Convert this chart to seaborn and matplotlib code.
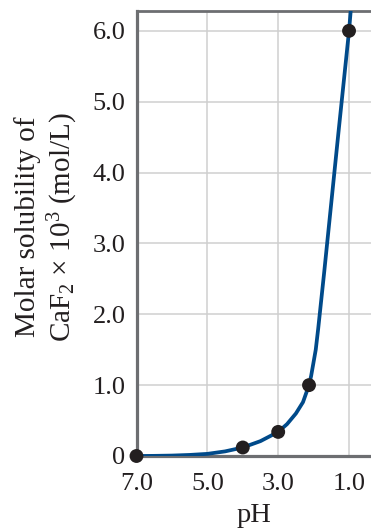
import numpy as np
import pandas as pd
import matplotlib
matplotlib.use("Agg")
import matplotlib.pyplot as plt
import seaborn as sns

# Measured data points (pH, molar solubility x 10^3)
point_ph = [7.0, 4.0, 3.0, 2.13, 1.0]
point_sol = [0.0, 0.12, 0.34, 1.0, 6.0]

# Curve
curve_ph = [7.0, 6.5, 6.0, 5.5, 5.0, 4.5, 4.0, 3.5, 3.0, 2.75, 2.5, 2.3, 2.13,
            2.07, 2.01, 1.94, 1.87, 1.7, 1.5, 1.3, 1.1, 1.0, 0.95]
curve_sol = [0.0, 0.002, 0.006, 0.015, 0.03, 0.065, 0.12, 0.21, 0.34, 0.45, 0.6, 0.76, 1.0,
             1.13, 1.3, 1.5, 1.8, 2.6, 3.58, 4.56, 5.52, 6.0, 6.3]

x_ticks = [7.0, 5.0, 3.0, 1.0]
x_tick_labels = ["7.0", "5.0", "3.0", "1.0"]
y_ticks = [0, 1, 2, 3, 4, 5, 6]
y_tick_labels = ["0", "1.0", "2.0", "3.0", "4.0", "5.0", "6.0"]

curve_df = pd.DataFrame({"pH": curve_ph, "sol": curve_sol})
point_df = pd.DataFrame({"pH": point_ph, "sol": point_sol})

sns.set_style("white")
plt.rcParams["font.family"] = ["Liberation Serif", "DejaVu Serif"]
plt.rcParams["mathtext.fontset"] = "custom"
plt.rcParams["mathtext.rm"] = "Liberation Serif"
plt.rcParams["mathtext.it"] = "Liberation Serif:italic"

text_color = "#231f20"
spine_color = "#6d6e71"
grid_color = "#cfcfcf"

fig = plt.figure(figsize=(3.71, 5.29), dpi=100)
ax = fig.add_axes([136.5 / 371, 1 - 456 / 529, 1 - 136.5 / 371, (456 - 11) / 529])

for v in x_ticks:
    ax.axvline(v, color=grid_color, lw=1.1, zorder=0)
for v in y_ticks:
    ax.axhline(v, color=grid_color, lw=1.1, zorder=0)

sns.lineplot(data=curve_df, x="pH", y="sol", ax=ax, color="#004a8a", lw=2.7,
             sort=False, estimator=None, zorder=3)
sns.scatterplot(data=point_df, x="pH", y="sol", ax=ax, color=text_color, s=100,
                edgecolor="none", zorder=4, clip_on=False)

ax.set_xlim(7.0, 0.38)
ax.set_ylim(0, 6.28)
ax.set_xticks(x_ticks)
ax.set_xticklabels(x_tick_labels)
ax.set_yticks(y_ticks)
ax.set_yticklabels(y_tick_labels)
ax.tick_params(axis="both", length=0, labelsize=19, colors=text_color)
ax.tick_params(axis="x", pad=12)
ax.tick_params(axis="y", pad=8)

for side in ["left", "bottom"]:
    ax.spines[side].set_color(spine_color)
    ax.spines[side].set_linewidth(2.3)
ax.spines["top"].set_color(spine_color)
ax.spines["top"].set_linewidth(2.0)
ax.spines["right"].set_visible(False)

ax.set_xlabel("pH", fontsize=20.5, color=text_color, labelpad=6)
ax.set_ylabel("Molar solubility of\nCaF$_2$ × 10$^3$ (mol/L)", fontsize=21,
              color=text_color, linespacing=1.2)
ax.yaxis.set_label_coords(-0.24, 0.515)

fig.savefig("out.png", dpi=100)
